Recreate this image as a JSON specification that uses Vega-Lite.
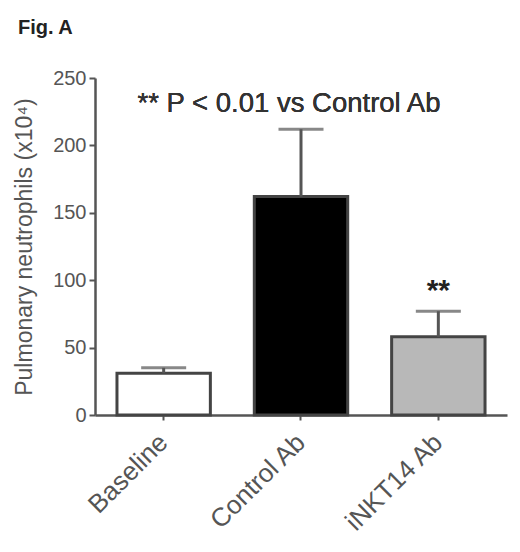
{
  "$schema": "https://vega.github.io/schema/vega-lite/v6.json",
  "width": 412,
  "height": 337,
  "autosize": "none",
  "padding": {"left": 95, "top": 78, "right": 13, "bottom": 137},
  "background": "white",
  "config": {
    "view": {"stroke": null},
    "font": "Liberation Sans"
  },
  "title": {
    "text": "Fig. A",
    "anchor": "start",
    "frame": "group",
    "dx": -77,
    "offset": 30,
    "fontSize": 20,
    "fontWeight": "bold",
    "color": "#222"
  },
  "data": {
    "values": [
      {"group": "Baseline", "value": 31, "err": 35, "sig": ""},
      {"group": "Control Ab", "value": 162, "err": 212, "sig": ""},
      {"group": "iNKT14 Ab", "value": 58, "err": 77, "sig": "**"}
    ]
  },
  "encoding": {
    "x": {
      "field": "group",
      "type": "nominal",
      "sort": null,
      "scale": {"paddingInner": 0.32, "paddingOuter": 0.16},
      "axis": {
        "title": null,
        "labelAngle": -45,
        "labelAlign": "right",
        "labelBaseline": "middle",
        "labelFontSize": 26,
        "labelColor": "#555",
        "labelPadding": 18,
        "domainColor": "#555",
        "domainWidth": 2.5,
        "tickColor": "#555",
        "tickWidth": 2,
        "tickSize": 5
      }
    }
  },
  "layer": [
    {
      "mark": {"type": "bar", "stroke": "#444", "strokeWidth": 3},
      "encoding": {
        "y": {
          "field": "value",
          "type": "quantitative",
          "scale": {"domain": [0, 250], "nice": false},
          "axis": {
            "title": "Pulmonary neutrophils (x10⁴)",
            "titleFontSize": 23,
            "titleFontWeight": "normal",
            "titleColor": "#555",
            "titlePadding": 16,
            "values": [0, 50, 100, 150, 200, 250],
            "grid": false,
            "labelFontSize": 20,
            "labelColor": "#555",
            "labelPadding": 3,
            "domainColor": "#555",
            "domainWidth": 2.5,
            "tickColor": "#555",
            "tickWidth": 2,
            "tickSize": 6
          }
        },
        "fill": {
          "field": "group",
          "type": "nominal",
          "scale": {"domain": ["Baseline", "Control Ab", "iNKT14 Ab"], "range": ["#ffffff", "#000000", "#b8b8b8"]},
          "legend": null
        }
      }
    },
    {
      "mark": {"type": "rule", "color": "#555", "strokeWidth": 3},
      "encoding": {
        "y": {"field": "value", "type": "quantitative"},
        "y2": {"field": "err"}
      }
    },
    {
      "mark": {"type": "tick", "color": "#555", "thickness": 3, "size": 45},
      "encoding": {
        "y": {"field": "err", "type": "quantitative"}
      }
    },
    {
      "mark": {"type": "text", "fontSize": 30, "fontWeight": "bold", "color": "#222", "baseline": "middle", "dy": -20},
      "encoding": {
        "y": {"field": "err", "type": "quantitative"},
        "text": {"field": "sig"}
      }
    },
    {
      "mark": {"type": "text", "fontSize": 27.5, "color": "#333", "align": "center", "baseline": "middle", "dx": -12},
      "encoding": {
        "x": {"datum": "Control Ab"},
        "y": {"datum": 231},
        "text": {"value": "** P < 0.01 vs Control Ab"}
      }
    }
  ]
}
